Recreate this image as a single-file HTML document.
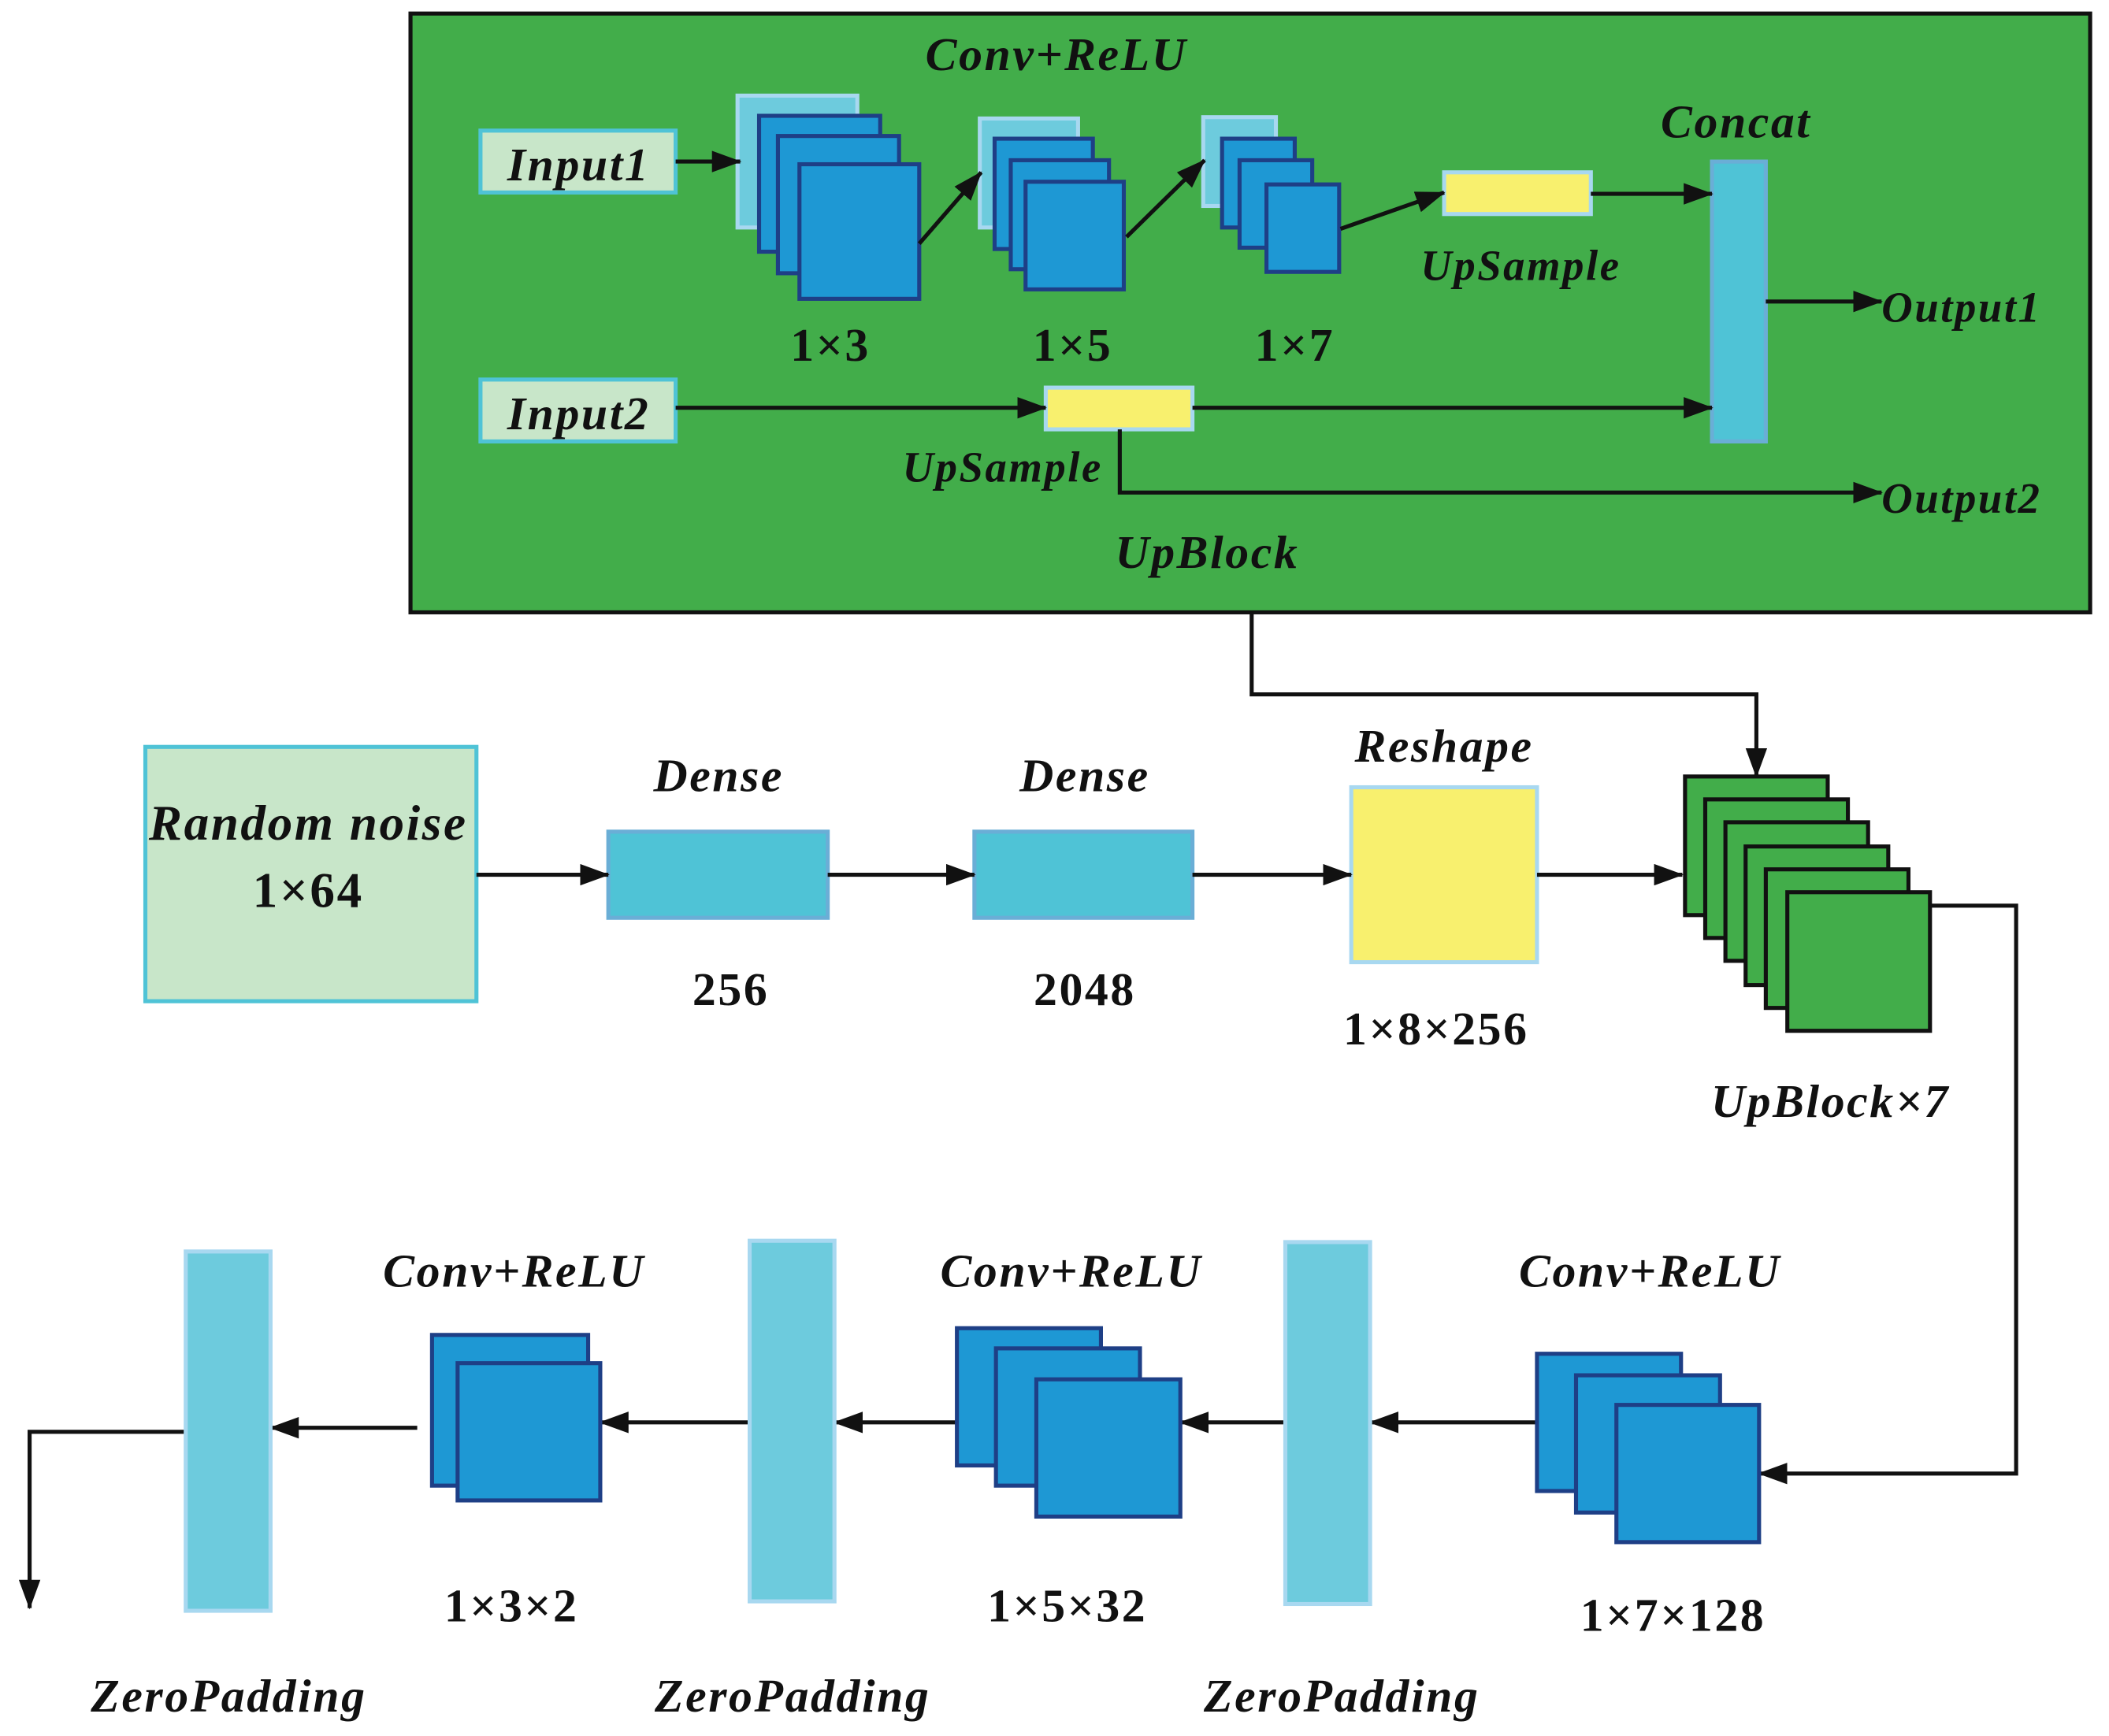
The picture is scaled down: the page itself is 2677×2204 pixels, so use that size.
<!DOCTYPE html>
<html><head><meta charset="utf-8"><style>html,body{margin:0;padding:0;background:#fff}svg{display:block}</style></head>
<body>
<svg width="2677" height="2204" viewBox="0 0 1567 1290" xmlns="http://www.w3.org/2000/svg" font-family="'Liberation Serif', serif" font-weight="bold" letter-spacing="1.5">
<defs>
<marker id="b" markerWidth="22" markerHeight="16" refX="21" refY="8" orient="auto" markerUnits="userSpaceOnUse"><path d="M0,0 L22,8 L0,16 Z" fill="#111"/></marker>
</defs>
<rect x="305" y="10" width="1248" height="445" fill="#42ad4a" stroke="#111" stroke-width="3"/>
<g font-style="italic" fill="#111" text-anchor="middle" font-size="35">
<text x="785" y="52">Conv+ReLU</text>
<text x="1290" y="102">Concat</text>
<text x="897" y="422">UpBlock</text>
</g>
<rect x="357" y="97" width="145" height="46" fill="#c8e6c9" stroke="#4fc3d6" stroke-width="3"/>
<rect x="357" y="282" width="145" height="46" fill="#c8e6c9" stroke="#4fc3d6" stroke-width="3"/>
<g font-style="italic" fill="#111" text-anchor="middle" font-size="35">
<text x="430" y="134">Input1</text>
<text x="430" y="319">Input2</text>
</g>
<g stroke-width="3">
<rect x="548" y="71" width="89" height="98" fill="#6dcbdd" stroke="#a8d8f0"/>
<rect x="564" y="86" width="90" height="101" fill="#1e98d4" stroke="#1e3f86"/>
<rect x="578" y="101" width="90" height="102" fill="#1e98d4" stroke="#1e3f86"/>
<rect x="594" y="122" width="89" height="100" fill="#1e98d4" stroke="#1e3f86"/>
<rect x="728" y="88" width="73" height="81" fill="#6dcbdd" stroke="#a8d8f0"/>
<rect x="739" y="103" width="73" height="82" fill="#1e98d4" stroke="#1e3f86"/>
<rect x="751" y="119" width="73" height="81" fill="#1e98d4" stroke="#1e3f86"/>
<rect x="762" y="135" width="73" height="80" fill="#1e98d4" stroke="#1e3f86"/>
<rect x="894" y="87" width="54" height="66" fill="#6dcbdd" stroke="#a8d8f0"/>
<rect x="908" y="103" width="54" height="66" fill="#1e98d4" stroke="#1e3f86"/>
<rect x="921" y="119" width="54" height="65" fill="#1e98d4" stroke="#1e3f86"/>
<rect x="941" y="137" width="54" height="65" fill="#1e98d4" stroke="#1e3f86"/>
<rect x="1073" y="128" width="109" height="31" fill="#f8f06e" stroke="#a8d8f0"/>
<rect x="777" y="288" width="109" height="31" fill="#f8f06e" stroke="#a8d8f0"/>
<rect x="1272" y="120" width="40" height="208" fill="#4fc3d6" stroke="#6aaed6"/>
</g>
<g stroke="#111" stroke-width="3" fill="none" marker-end="url(#b)">
<path d="M502,120 L550,120"/>
<path d="M683,181 L729,128"/>
<path d="M837,176 L895,119"/>
<path d="M996,170 L1073,143"/>
<path d="M1182,144 L1272,144"/>
<path d="M1312,224 L1398,224"/>
<path d="M502,303 L777,303"/>
<path d="M886,303 L1272,303"/>
<path d="M832,319 L832,366 L1398,366"/>
<path d="M930,455 L930,516 L1305,516 L1305,577"/>
</g>
<g font-style="italic" fill="#111" font-size="32">
<text x="1130" y="208" text-anchor="middle">UpSample</text>
<text x="745" y="358" text-anchor="middle">UpSample</text>
<text x="1398" y="239">Output1</text>
<text x="1398" y="381">Output2</text>
</g>
<g fill="#111" text-anchor="middle" font-size="35">
<text x="617" y="268">1×3</text>
<text x="797" y="268">1×5</text>
<text x="962" y="268">1×7</text>
</g>
<rect x="108" y="555" width="246" height="189" fill="#c8e6c9" stroke="#4fc3d6" stroke-width="3"/>
<text x="229" y="624" font-style="italic" font-size="37" text-anchor="middle" fill="#111">Random noise</text>
<text x="229" y="674" font-size="37" text-anchor="middle" fill="#111">1×64</text>
<rect x="452" y="618" width="163" height="64" fill="#4fc3d6" stroke="#6aaed6" stroke-width="3"/>
<rect x="724" y="618" width="162" height="64" fill="#4fc3d6" stroke="#6aaed6" stroke-width="3"/>
<rect x="1004" y="585" width="138" height="130" fill="#f8f06e" stroke="#a8d8f0" stroke-width="3"/>
<g stroke="#111" stroke-width="3" fill="#42ad4a">
<rect x="1252" y="577" width="106" height="103"/>
<rect x="1267" y="594" width="106" height="103"/>
<rect x="1282" y="611" width="106" height="103"/>
<rect x="1297" y="629" width="106" height="103"/>
<rect x="1312" y="646" width="106" height="103"/>
<rect x="1328" y="663" width="106" height="103"/>
</g>
<g stroke="#111" stroke-width="3" fill="none" marker-end="url(#b)">
<path d="M354,650 L452,650"/>
<path d="M615,650 L724,650"/>
<path d="M886,650 L1004,650"/>
<path d="M1142,650 L1250,650"/>
<path d="M1434,673 L1498,673 L1498,1095 L1307,1095"/>
<path d="M1142,1057 L1018,1057"/>
<path d="M955,1057 L877,1057"/>
<path d="M711,1057 L620,1057"/>
<path d="M557,1057 L446,1057"/>
<path d="M310,1061 L201,1061"/>
<path d="M138,1064 L22,1064 L22,1195"/>
</g>
<g fill="#111" text-anchor="middle" font-size="35">
<text x="534" y="588" font-style="italic">Dense</text>
<text x="806" y="588" font-style="italic">Dense</text>
<text x="1073" y="566" font-style="italic">Reshape</text>
<text x="1360" y="830" font-style="italic">UpBlock×7</text>
<text x="543" y="747">256</text>
<text x="806" y="747">2048</text>
<text x="1067" y="776">1×8×256</text>
<text x="1226" y="956" font-style="italic">Conv+ReLU</text>
<text x="796" y="956" font-style="italic">Conv+ReLU</text>
<text x="382" y="956" font-style="italic">Conv+ReLU</text>
<text x="1243" y="1212">1×7×128</text>
<text x="793" y="1205">1×5×32</text>
<text x="380" y="1205">1×3×2</text>
<text x="997" y="1272" font-style="italic">ZeroPadding</text>
<text x="589" y="1272" font-style="italic">ZeroPadding</text>
<text x="170" y="1272" font-style="italic">ZeroPadding</text>
</g>
<g stroke-width="3">
<rect x="955" y="923" width="63" height="269" fill="#6dcbdd" stroke="#a8d8f0"/>
<rect x="557" y="922" width="63" height="268" fill="#6dcbdd" stroke="#a8d8f0"/>
<rect x="138" y="930" width="63" height="267" fill="#6dcbdd" stroke="#a8d8f0"/>
<rect x="1142" y="1006" width="107" height="102" fill="#1e98d4" stroke="#1e3f86"/>
<rect x="1171" y="1022" width="107" height="102" fill="#1e98d4" stroke="#1e3f86"/>
<rect x="1201" y="1044" width="106" height="102" fill="#1e98d4" stroke="#1e3f86"/>
<rect x="711" y="987" width="107" height="102" fill="#1e98d4" stroke="#1e3f86"/>
<rect x="740" y="1002" width="107" height="102" fill="#1e98d4" stroke="#1e3f86"/>
<rect x="770" y="1025" width="107" height="102" fill="#1e98d4" stroke="#1e3f86"/>
<rect x="321" y="992" width="116" height="112" fill="#1e98d4" stroke="#1e3f86"/>
<rect x="340" y="1013" width="106" height="102" fill="#1e98d4" stroke="#1e3f86"/>
</g>
</svg>
</body></html>
